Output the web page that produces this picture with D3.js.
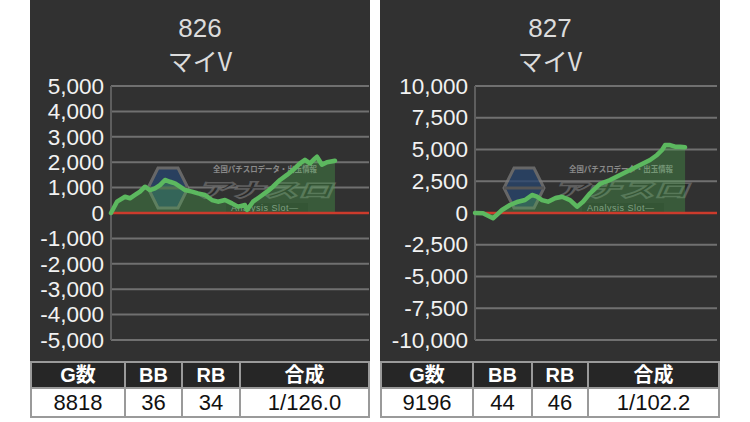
<!DOCTYPE html>
<html>
<head>
<meta charset="utf-8">
<script src="https://cdn.jsdelivr.net/npm/d3@7"></script>
<style>
  html, body { margin: 0; padding: 0; background: #ffffff; }
  svg { display: block; }
</style>
</head>
<body>
<svg id="chart" width="750" height="422"></svg>
<script>
// ---- DATA ----
const leftTitle = "826";
const rightTitle = "827";
const machineName = "マイV";

const leftGames  = [0, 236, 551, 748, 945, 1142, 1338, 1535, 1732, 1929, 2126, 2323, 2519, 2716, 2913, 3189, 3425, 3700, 3976, 4212, 4488, 4763, 5000, 5275, 5354, 5590, 5866, 6141, 6377, 6653, 6928, 7164, 7440, 7637, 7834, 8031, 8109, 8306, 8503, 8818];
const leftValues = [0, 445, 640, 580, 710, 840, 1035, 905, 970, 1100, 1300, 1230, 1170, 1035, 905, 840, 775, 710, 510, 445, 510, 380, 250, 315, 120, 445, 640, 840, 1035, 1300, 1500, 1690, 1955, 2090, 1955, 2150, 2215, 1900, 2000, 2060];

const rightGames  = [0, 350, 788, 1182, 1533, 1883, 2190, 2496, 2715, 2934, 3197, 3503, 3810, 4160, 4467, 4729, 5036, 5474, 5912, 6349, 6787, 7225, 7663, 7970, 8189, 8320, 8539, 8758, 8977, 9196];
const rightValues = [0, -25, -420, 235, 630, 890, 1020, 1420, 1280, 1020, 890, 1160, 1280, 1020, 500, 890, 1550, 2300, 2600, 3000, 3390, 3780, 4170, 4570, 4960, 5350, 5350, 5220, 5220, 5170];

const leftTicks  = [5000, 4000, 3000, 2000, 1000, 0, -1000, -2000, -3000, -4000, -5000];
const rightTicks = [10000, 7500, 5000, 2500, 0, -2500, -5000, -7500, -10000];

const tableHeaders = ["G数", "BB", "RB", "合成"];
const leftStats  = ["8818", "36", "34", "1/126.0"];
const rightStats = ["9196", "44", "46", "1/102.2"];

// ---- DRAW ----
const svg = d3.select("#chart");
const latin = "'Liberation Sans', Arial, Helvetica, sans-serif";
const cjk = "'Liberation Sans', 'Noto Sans CJK JP', sans-serif";
const fmt = d3.format(",");
const tickFmt = d => fmt(d).replace("\u2212", "-");

function panel(opt) {
  const g = svg.append("g");
  const {x0, x1, plotL, plotR, title, games, values, ticks, yMax, stats, colEdges} = opt;
  const plotT = 86, plotB = 340;
  const cx = (x0 + x1) / 2;

  // background
  g.append("rect").attr("x", x0).attr("y", 0).attr("width", x1 - x0).attr("height", 362)
    .attr("fill", "#313131");

  // titles
  g.append("text").attr("x", cx).attr("y", 37).attr("text-anchor", "middle")
    .attr("font-family", latin).attr("font-size", 26).attr("fill", "#dcdcdc").text(title);
  g.append("text").attr("x", cx).attr("y", 71).attr("text-anchor", "middle")
    .attr("font-family", "'Noto Sans CJK JP', sans-serif").attr("font-size", 25).attr("fill", "#dcdcdc").text(machineName);

  const y = d3.scaleLinear().domain([-yMax, yMax]).range([plotB, plotT]);
  const x = d3.scaleLinear().domain([0, games[games.length - 1] * 1.152]).range([plotL, plotR]);

  // gridlines
  g.append("g").selectAll("line").data(ticks).join("line")
    .attr("x1", plotL).attr("x2", plotR)
    .attr("y1", d => y(d)).attr("y2", d => y(d))
    .attr("stroke", "#707070").attr("stroke-width", 2);
  // left border
  g.append("line").attr("x1", plotL).attr("x2", plotL).attr("y1", plotT).attr("y2", plotB)
    .attr("stroke", "#5e5e5e").attr("stroke-width", 2);

  // axis labels
  const axis = d3.axisLeft(y).tickValues(ticks).tickFormat(tickFmt).tickSize(0).tickPadding(0);
  const ag = g.append("g").attr("transform", `translate(${plotL - 7},0)`).call(axis);
  ag.select(".domain").remove();
  ag.selectAll("text").attr("font-family", latin).attr("font-size", 22.5).attr("fill", "#f2f2f2");

  // watermark
  const pcx = (plotL + plotR) / 2;
  const wm = g.append("g");
  const hx = pcx - 72, hy = plotT + 102, hw = 20, hh = 20;
  const hex = [[hx - hw, hy], [hx - hw / 2, hy - hh], [hx + hw / 2, hy - hh], [hx + hw, hy], [hx + hw / 2, hy + hh], [hx - hw / 2, hy + hh]];
  wm.append("polygon").attr("points", hex.map(p => p.join(",")).join(" "))
    .attr("fill", "#27456f").attr("stroke", "#7a7a7a").attr("stroke-width", 3).attr("opacity", 0.75);
  wm.append("rect").attr("x", hx - hw).attr("y", hy - 1.5).attr("width", hw * 2).attr("height", 3).attr("fill", "#555");
  wm.append("text").attr("x", pcx - 44).attr("y", plotT + 111).attr("font-family", "'Noto Sans CJK JP', sans-serif")
    .attr("font-weight", 900).attr("font-size", 19).attr("font-style", "italic")
    .attr("textLength", 136).attr("lengthAdjust", "spacingAndGlyphs")
    .attr("fill", "#262626").attr("stroke", "#6a6a6a").attr("stroke-width", 1.5).attr("opacity", 0.8)
    .text("アナスロ");
  wm.append("text").attr("x", pcx - 27).attr("y", plotT + 86).attr("font-family", "'Noto Sans CJK JP', sans-serif")
    .attr("font-size", 8).attr("font-weight", 700).attr("fill", "#8a8a8a").attr("textLength", 104)
    .attr("lengthAdjust", "spacingAndGlyphs").text("全国パチスロデータ・出玉情報");
  wm.append("rect").attr("x", pcx - 14).attr("y", plotT + 117).attr("width", 82).attr("height", 9).attr("fill", "#262626").attr("opacity", 0.7);
  wm.append("text").attr("x", pcx - 9).attr("y", plotT + 125).attr("font-family", latin)
    .attr("font-size", 9).attr("fill", "#9a9a9a").attr("letter-spacing", 0.5).text("Analysis Slot—");

  const pts = games.map((gm, i) => [gm, values[i]]);
  // area
  g.append("path").datum(pts)
    .attr("d", d3.area().x(d => x(d[0])).y0(y(0)).y1(d => y(d[1])))
    .attr("fill", "#4caf50").attr("opacity", 0.33);
  // zero line
  g.append("line").attr("x1", plotL).attr("x2", plotR).attr("y1", y(0)).attr("y2", y(0))
    .attr("stroke", "#cc3b2c").attr("stroke-width", 2.5);
  // line
  g.append("path").datum(pts)
    .attr("d", d3.line().x(d => x(d[0])).y(d => y(d[1])))
    .attr("fill", "none").attr("stroke", "#5cb85f").attr("stroke-width", 4.5)
    .attr("stroke-linejoin", "round").attr("stroke-linecap", "round");

  // table
  const tT = 362, tM = 388, tB = 417;
  const tg = g.append("g");
  for (let i = 0; i < 4; i++) {
    const cxl = colEdges[i], cxr = colEdges[i + 1];
    tg.append("rect").attr("x", cxl).attr("y", tT).attr("width", cxr - cxl).attr("height", tM - tT)
      .attr("fill", "#262626").attr("stroke", "#9a9a9a").attr("stroke-width", 2);
    tg.append("rect").attr("x", cxl).attr("y", tM).attr("width", cxr - cxl).attr("height", tB - tM)
      .attr("fill", "#ffffff").attr("stroke", "#9a9a9a").attr("stroke-width", 2);
    tg.append("text").attr("x", (cxl + cxr) / 2).attr("y", tT + 20).attr("text-anchor", "middle")
      .attr("font-family", cjk).attr("font-weight", 700).attr("font-size", 20).attr("fill", "#ffffff")
      .text(tableHeaders[i]);
    tg.append("text").attr("x", (cxl + cxr) / 2).attr("y", tM + 22).attr("text-anchor", "middle")
      .attr("font-family", latin).attr("font-size", 22).attr("fill", "#111111")
      .text(stats[i]);
  }
}

panel({x0: 30, x1: 370, plotL: 111, plotR: 369, title: leftTitle, games: leftGames, values: leftValues,
  ticks: leftTicks, yMax: 5000, stats: leftStats, colEdges: [31, 125, 182, 240, 369]});
panel({x0: 380, x1: 720, plotL: 475, plotR: 717, title: rightTitle, games: rightGames, values: rightValues,
  ticks: rightTicks, yMax: 10000, stats: rightStats, colEdges: [381, 473, 532, 588, 719]});
</script>
</body>
</html>
